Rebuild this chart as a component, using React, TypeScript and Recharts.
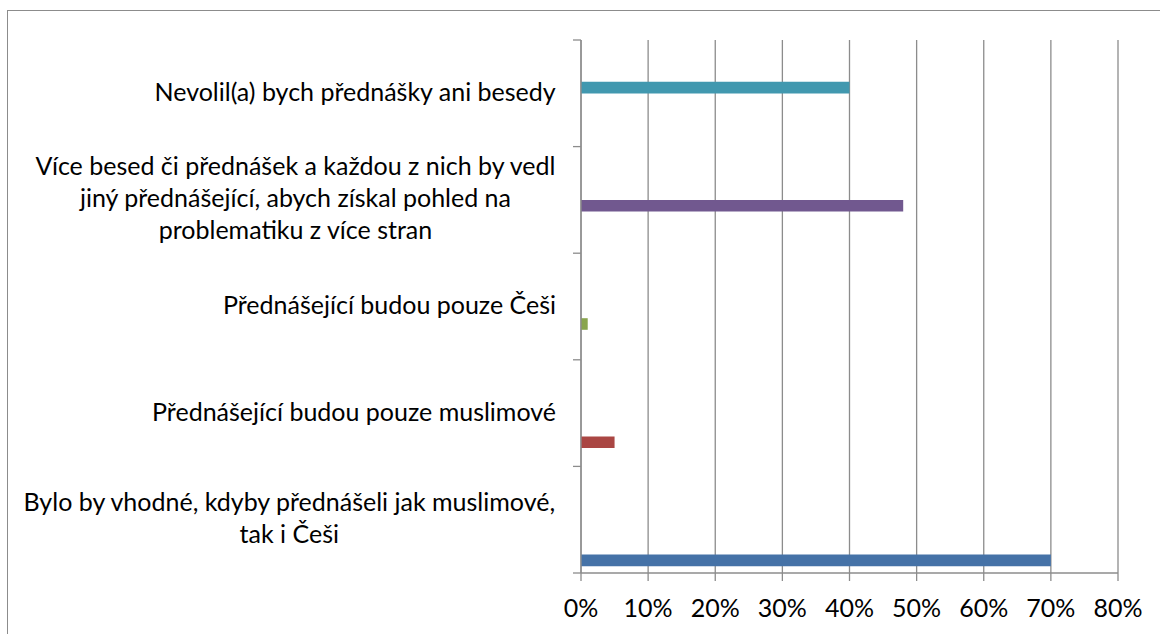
import React from "react";
import { BarChart, Bar, XAxis, YAxis, CartesianGrid } from "recharts";

// Categories from top to bottom (as displayed)
const categories = [
  "Nevolil(a) bych přednášky ani besedy",
  "Více besed či přednášek a každou z nich by vedl jiný přednášející, abych získal pohled na problematiku z více stran",
  "Přednášející budou pouze Češi",
  "Přednášející budou pouze muslimové",
  "Bylo by vhodné, kdyby přednášeli jak muslimové, tak i Češi",
];

const labelLines = [
  ["Nevolil(a) bych přednášky ani besedy"],
  [
    "Více besed či přednášek a každou z nich by vedl",
    "jiný přednášející, abych získal pohled na",
    "problematiku z více stran",
  ],
  ["Přednášející budou pouze Češi"],
  ["Přednášející budou pouze muslimové"],
  ["Bylo by vhodné, kdyby přednášeli jak muslimové,", "tak i Češi"],
];

// one series per answer (Excel-style clustered bars)
const seriesBylo = [null, null, null, null, 0.7];
const seriesMuslimove = [null, null, null, 0.05, null];
const seriesCesi = [null, null, 0.01, null, null];
const seriesVice = [null, 0.48, null, null, null];
const seriesNevolil = [0.4, null, null, null, null];

const xTicks = [0, 0.1, 0.2, 0.3, 0.4, 0.5, 0.6, 0.7, 0.8];

const data = categories.map((name, i) => ({
  name,
  bylo: seriesBylo[i],
  muslimove: seriesMuslimove[i],
  cesi: seriesCesi[i],
  vice: seriesVice[i],
  nevolil: seriesNevolil[i],
}));

const W = 1160;
const H = 634;
const PLOT_LEFT = 581;
const PLOT_TOP = 40;
const PLOT_BOTTOM = 573;
const PLOT_RIGHT = 1118;
const BAND = (PLOT_BOTTOM - PLOT_TOP) / categories.length;
const FONT = "Lato, 'Open Sans', sans-serif";
const FS = 25;
const LINE_H = 32;
const GRAY = "#8c8c8c";

let ctx: CanvasRenderingContext2D | null = null;
function measure(t: string): number {
  if (!ctx) {
    const c = document.createElement("canvas");
    ctx = c.getContext("2d");
  }
  if (!ctx) return t.length * FS * 0.5;
  ctx.font = `${FS}px Lato`;
  return ctx.measureText(t).width;
}

const YTick = (props: any) => {
  const { y, payload } = props;
  const idx = categories.indexOf(payload.value);
  const lines = labelLines[idx] || [String(payload.value)];
  const maxW = Math.max(...lines.map(measure));
  const cx = PLOT_LEFT - 25 - maxW / 2;
  const startY = y - 2.5 - ((lines.length - 1) * LINE_H) / 2;
  return (
    <g>
      <line x1={PLOT_LEFT - 8} x2={PLOT_LEFT} y1={y + BAND / 2} y2={y + BAND / 2} stroke={GRAY} strokeWidth={1.3} />
      {idx === 0 && (
        <line x1={PLOT_LEFT - 8} x2={PLOT_LEFT} y1={y - BAND / 2} y2={y - BAND / 2} stroke={GRAY} strokeWidth={1.3} />
      )}
      <text
        x={cx}
        y={startY}
        textAnchor="middle"
        dominantBaseline="central"
        fontFamily={FONT}
        fontSize={FS}
        fill="#000"
      >
        {lines.map((l, i) => (
          <tspan key={i} x={cx} y={startY + i * LINE_H} dominantBaseline="central">
            {l}
          </tspan>
        ))}
      </text>
    </g>
  );
};

const XTick = (props: any) => {
  const { x, payload } = props;
  return (
    <text
      x={x}
      y={607}
      textAnchor="middle"
      dominantBaseline="central"
      fontFamily={FONT}
      fontSize={FS}
      fill="#000"
    >
      {`${Math.round(payload.value * 100)}%`}
    </text>
  );
};

export default function App() {
  return (
    <div
      style={{
        position: "fixed",
        left: 0,
        top: 0,
        width: W,
        height: H,
        overflow: "hidden",
        background: "#fff",
      }}
    >
      <div
        style={{
          position: "absolute",
          left: 7,
          top: 10,
          width: 1300,
          height: 800,
          borderTop: `1px solid ${GRAY}`,
          borderLeft: `1px solid ${GRAY}`,
        }}
      />
      <div style={{ position: "absolute", left: 0, top: 0 }}>
        <BarChart
          width={W}
          height={H}
          data={data}
          layout="vertical"
          margin={{ top: PLOT_TOP, right: W - PLOT_RIGHT, bottom: 0, left: 0 }}
          barSize={11.6}
          barGap={0}
        >
          <CartesianGrid horizontal={false} vertical={true} stroke={GRAY} strokeWidth={1.3} />
          <XAxis
            type="number"
            domain={[0, 0.8]}
            ticks={xTicks}
            interval={0}
            axisLine={{ stroke: GRAY, strokeWidth: 1.3 }}
            tickLine={{ stroke: GRAY, strokeWidth: 1.3 }}
            tickSize={8}
            tick={<XTick />}
            height={H - PLOT_BOTTOM}
          />
          <YAxis
            type="category"
            dataKey="name"
            width={PLOT_LEFT}
            interval={0}
            axisLine={{ stroke: GRAY, strokeWidth: 1.3 }}
            tickLine={false}
            tick={<YTick />}
          />
          <Bar dataKey="empty1" fill="transparent" isAnimationActive={false} />
          <Bar dataKey="empty2" fill="transparent" isAnimationActive={false} />
          <Bar dataKey="empty3" fill="transparent" isAnimationActive={false} />
          <Bar dataKey="nevolil" fill="#4198AF" isAnimationActive={false} />
          <Bar dataKey="vice" fill="#71588F" isAnimationActive={false} />
          <Bar dataKey="cesi" fill="#89A54E" isAnimationActive={false} />
          <Bar dataKey="muslimove" fill="#AA4643" isAnimationActive={false} />
          <Bar dataKey="bylo" fill="#4572A7" isAnimationActive={false} />
        </BarChart>
      </div>
    </div>
  );
}
